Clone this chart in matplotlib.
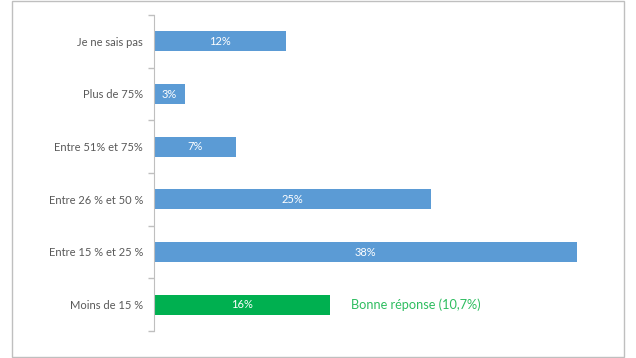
import matplotlib
matplotlib.use("Agg")
import matplotlib.pyplot as plt
from matplotlib.patches import Rectangle

categories = ["Je ne sais pas", "Plus de 75%", "Entre 51% et 75%",
              "Entre 26 % et 50 %", "Entre 15 % et 25 %", "Moins de 15 %"]
values = [11.9, 2.8, 7.4, 24.9, 38.0, 15.8]
colors = ["#5b9bd5", "#5b9bd5", "#5b9bd5", "#5b9bd5", "#5b9bd5", "#00b050"]
annotation = "Bonne réponse (10,7%)"

plt.rcParams['font.family'] = ['Lato', 'DejaVu Sans']

W, H = 636, 358
fig = plt.figure(figsize=(W / 100, H / 100), dpi=100)

# outer frame
fig.patches.append(Rectangle((12 / W, 1 / H), (624 - 12) / W, (357 - 1) / H,
                             transform=fig.transFigure, fill=False,
                             edgecolor="#bfbfbf", linewidth=1.0))

left, right = 154 / W, 599 / W
bottom, top = 1 - 331 / H, 1 - 15 / H
ax = fig.add_axes([left, bottom, right - left, top - bottom])

n = len(categories)
ypos = [n - 1 - i for i in range(n)]
ax.barh(ypos, values, height=0.38, color=colors, edgecolor="none")

for y, v in zip(ypos, values):
    ax.text(v / 2, y, f"{v:.0f}%", ha="center", va="center",
            color="white", fontsize=8)

ax.text(17.7, 0, annotation, ha="left", va="center", color="#2ebd60",
        fontsize=9.2)

ax.set_xlim(0, 40)
ax.set_ylim(-0.5, n - 0.5)
ax.set_yticks(ypos)
ax.set_yticklabels(categories, color="#595959", fontsize=8)
ax.set_yticks([i - 0.5 for i in range(n + 1)], minor=True)
ax.tick_params(axis="y", which="major", length=0, pad=8)
ax.tick_params(axis="y", which="minor", length=4, color="#bfbfbf", width=1)
ax.set_xticks([])
for s in ["top", "right", "bottom"]:
    ax.spines[s].set_visible(False)
ax.spines["left"].set_color("#bfbfbf")
ax.patch.set_alpha(0)

fig.savefig("out.png", dpi=100)
